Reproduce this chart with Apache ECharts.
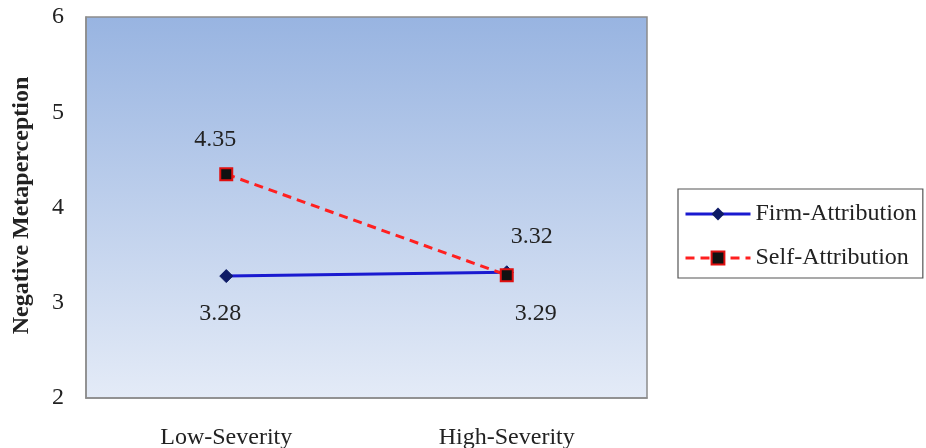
<!DOCTYPE html>
<html><head><meta charset="utf-8">
<script src="https://cdn.jsdelivr.net/npm/echarts@6/dist/echarts.min.js"></script>
<style>html,body{margin:0;padding:0;background:#fff}#c{width:926px;height:448px}</style>
</head><body><div id="c"></div>
<script>
var categories = ['Low-Severity', 'High-Severity'];
var firmValues = [3.28, 3.32];
var selfValues = [4.35, 3.29];
var yTicks = [2, 3, 4, 5, 6];
var seriesNames = ['Firm-Attribution', 'Self-Attribution'];
var yName = 'Negative Metaperception';

var font = 'Liberation Serif, Times New Roman, serif';
var firmOffsets = [[-6, 14], [25, -12]];
var selfOffsets = [[-11, -10], [29, 15]];
var chart = echarts.init(document.getElementById('c'));
chart.setOption({
  animation: false,
  textStyle: {fontFamily: font},
  grid: {left: 86, top: 17, width: 561, height: 381, show: true, borderColor: '#8c8c8c', borderWidth: 1.5,
    outerBoundsMode: 'none', containLabel: false,
    backgroundColor: new echarts.graphic.LinearGradient(0, 0, 0, 1, [
      {offset: 0, color: '#98b4e1'}, {offset: 1, color: '#e4ebf7'}])},
  legend: {orient: 'vertical', left: 678, top: 189, padding: [13, 6, 8, 6], itemGap: 20,
    borderColor: '#555', borderWidth: 1.2, itemWidth: 65, itemHeight: 16,
    lineStyle: {width: 3},
    textStyle: {fontFamily: font, fontSize: 24, color: '#222'}, data: seriesNames},
  xAxis: {type: 'category', data: categories, boundaryGap: true,
    axisLine: {show: true, lineStyle: {color: '#8c8c8c', width: 1.5}}, axisTick: {show: false},
    axisLabel: {fontFamily: font, fontSize: 24, color: '#222', margin: 28}},
  yAxis: {type: 'value', min: yTicks[0], max: yTicks[yTicks.length - 1], interval: 1,
    name: yName, nameLocation: 'middle', nameGap: 52, nameRotate: 90,
    nameTextStyle: {fontFamily: font, fontSize: 24, fontWeight: 'bold', color: '#222', padding: [0, 0, 0, 4]},
    axisLine: {show: true, lineStyle: {color: '#8c8c8c', width: 1.5}}, axisTick: {show: false},
    splitLine: {show: false},
    axisLabel: {fontFamily: font, fontSize: 24, color: '#222', margin: 22, padding: [5, 0, 0, 0]}},
  series: [
    {name: seriesNames[0], type: 'line', symbol: 'diamond', symbolSize: 13,
      data: firmValues.map(function (v, i) {
        return {value: v, label: {position: i === 0 ? 'bottom' : 'top', offset: firmOffsets[i]}};
      }),
      lineStyle: {color: '#1a1ad0', width: 3}, itemStyle: {color: '#0d1a66', borderColor: '#0d1a66'},
      label: {show: true, fontFamily: font, fontSize: 24, color: '#222',
        formatter: function (p) { return p.value.toFixed(2); }}},
    {name: seriesNames[1], type: 'line', symbol: 'rect', symbolSize: 12,
      data: selfValues.map(function (v, i) {
        return {value: v, label: {position: i === 0 ? 'top' : 'bottom', offset: selfOffsets[i]}};
      }),
      lineStyle: {color: '#ff2020', width: 3, type: [9, 6]}, itemStyle: {color: '#111', borderColor: '#e01010', borderWidth: 2},
      label: {show: true, fontFamily: font, fontSize: 24, color: '#222',
        formatter: function (p) { return p.value.toFixed(2); }}}
  ]
});
</script></body></html>
